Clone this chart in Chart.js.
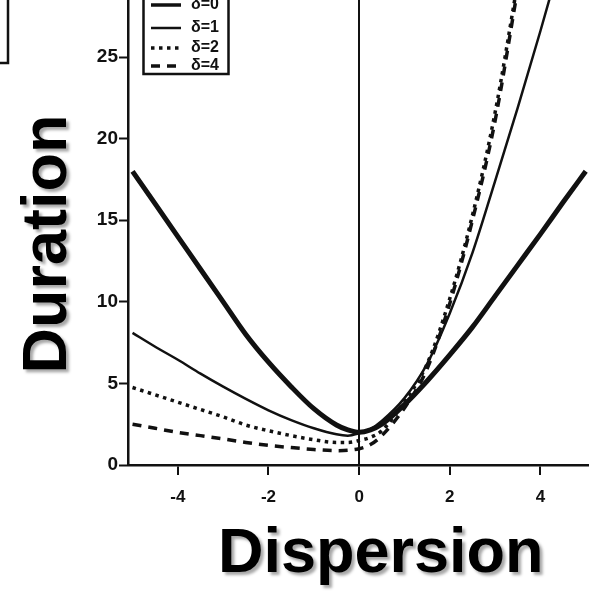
<!DOCTYPE html>
<html>
<head>
<meta charset="utf-8">
<script src="https://cdn.jsdelivr.net/npm/chart.js@4.4.1/dist/chart.umd.min.js"></script>
<style>
  html, body { margin: 0; padding: 0; background: #fff; }
  #wrap { position: relative; width: 591px; height: 591px; }
</style>
</head>
<body>
<div id="wrap"><canvas id="c" width="591" height="591"></canvas></div>
<script>
// ---- data ----
const X_VALUES = [-5, -4.5, -4, -3.5, -3, -2.5, -2, -1.5, -1, -0.5, -0.25, 0, 0.25, 0.5, 1, 1.5, 2, 2.5, 3, 3.5, 4, 4.5, 5];
const DELTA0 = [18.0, 16.0, 14.0, 12.0, 10.0, 8.0, 6.3, 4.8, 3.45, 2.45, 2.15, 2.0, 2.15, 2.5, 3.7, 5.15, 6.75, 8.45, 10.35, 12.25, 14.15, 16.1, 18.0];
const DELTA1 = [8.1, 7.25, 6.45, 5.6, 4.8, 4.05, 3.35, 2.75, 2.25, 1.88, 1.8, 1.95, 2.2, 2.7, 4.1, 6.2, 9.3, 13.0, 17.4, 21.9, 26.6, 31.5, null];
const DELTA2 = [4.75, 4.3, 3.85, 3.4, 2.95, 2.45, 2.1, 1.8, 1.55, 1.38, 1.38, 1.5, 1.7, 2.1, 3.9, 6.2, 10.2, 15.3, 21.6, 29.6, null, null, null];
const DELTA4 = [2.5, 2.25, 2.0, 1.8, 1.6, 1.38, 1.2, 1.07, 0.95, 0.88, 0.9, 1.0, 1.25, 1.8, 3.5, 5.9, 9.9, 15.0, 21.1, 29.2, null, null, null];
const SERIES_LABELS = ['δ=0', 'δ=1', 'δ=2', 'δ=4'];
const X_TICKS = [-4, -2, 0, 2, 4];
const Y_TICKS = [0, 5, 10, 15, 20, 25];
const X_TITLE = 'Dispersion';
const Y_TITLE = 'Duration';

const pts = (ys) => X_VALUES.map((x, i) => ({ x: x, y: ys[i] }));

const styles = [
  { borderWidth: 5, borderDash: [] },
  { borderWidth: 2.5, borderDash: [] },
  { borderWidth: 3.5, borderDash: [3.5, 4.5] },
  { borderWidth: 3.5, borderDash: [9, 7] }
];
const seriesData = [DELTA0, DELTA1, DELTA2, DELTA4];

const datasets = seriesData.map((ys, i) => ({
  label: SERIES_LABELS[i],
  data: pts(ys),
  borderColor: '#111',
  backgroundColor: '#111',
  borderWidth: styles[i].borderWidth,
  borderDash: styles[i].borderDash,
  borderCapStyle: 'butt',
  pointRadius: 0,
  cubicInterpolationMode: 'monotone',
  spanGaps: false,
  fill: false,
  clip: { left: 6, top: 0, right: 6, bottom: 6 }
}));

const overlay = {
  id: 'overlay',
  afterDraw(chart) {
    const ctx = chart.ctx;
    ctx.save();
    // partial frame at top-left corner (from neighbouring panel)
    ctx.strokeStyle = '#111';
    ctx.lineWidth = 2.5;
    ctx.beginPath();
    ctx.moveTo(8, 0); ctx.lineTo(8, 63); ctx.lineTo(0, 63);
    ctx.stroke();

    // legend box
    ctx.lineWidth = 2.5;
    ctx.strokeRect(143.5, -10, 85, 84);
    const rows = [5, 28, 48, 66];
    ctx.font = 'bold 16px "Liberation Sans", Arial, sans-serif';
    ctx.textBaseline = 'middle';
    ctx.textAlign = 'left';
    chart.data.datasets.forEach((ds, i) => {
      const y = rows[i];
      ctx.save();
      ctx.lineWidth = Math.min(ds.borderWidth, 3.5);
      ctx.setLineDash(ds.borderDash || []);
      ctx.strokeStyle = '#111';
      ctx.beginPath();
      ctx.moveTo(151, y); ctx.lineTo(181, y);
      ctx.stroke();
      ctx.restore();
      ctx.fillStyle = '#111';
      ctx.fillText(ds.label, 191, y);
    });

    // big axis titles
    ctx.fillStyle = '#000';
    ctx.shadowColor = 'rgba(0,0,0,0.35)';
    ctx.shadowOffsetX = 3;
    ctx.shadowOffsetY = 3;
    ctx.shadowBlur = 3;
    ctx.font = 'bold 63px "Liberation Sans", Arial, sans-serif';
    ctx.textBaseline = 'alphabetic';
    ctx.textAlign = 'left';
    ctx.fillText(X_TITLE, 218, 572);
    ctx.translate(66, 244);
    ctx.rotate(-Math.PI / 2);
    ctx.textAlign = 'center';
    ctx.fillText(Y_TITLE, 0, 0);
    ctx.restore();
  }
};

const xFont = { family: '"Liberation Sans", Arial, sans-serif', size: 17, weight: 'bold' };
const yFont = { family: '"Liberation Sans", Arial, sans-serif', size: 19, weight: 'bold' };

new Chart(document.getElementById('c'), {
  type: 'line',
  data: { datasets: datasets },
  options: {
    responsive: false,
    animation: false,
    devicePixelRatio: 1,
    layout: { padding: { left: 0, right: 3, top: 0, bottom: 0 } },
    plugins: { legend: { display: false }, tooltip: { enabled: false } },
    scales: {
      x: {
        type: 'linear',
        position: 'bottom',
        min: -5.1,
        max: 5.05,
        afterFit: (s) => { s.height = 126; s.paddingLeft = 0; s.paddingRight = 0; },
        afterBuildTicks: (s) => { s.ticks = X_TICKS.map(v => ({ value: v })); },
        ticks: { font: xFont, color: '#111', padding: 12, maxRotation: 0 },
        grid: {
          drawOnChartArea: true,
          color: (c) => (c.tick && c.tick.value === 0) ? '#111' : 'rgba(0,0,0,0)',
          lineWidth: 2,
          tickColor: '#111',
          tickLength: 10,
          tickWidth: 2
        },
        border: { display: true, color: '#111', width: 2.5 }
      },
      y: {
        type: 'linear',
        min: 0,
        max: 28.5,
        afterFit: (s) => { s.width = 128; s.paddingTop = 0; s.paddingBottom = 0; },
        afterBuildTicks: (s) => { s.ticks = Y_TICKS.map(v => ({ value: v })); },
        ticks: { font: yFont, color: '#111', padding: 1 },
        grid: {
          drawOnChartArea: false,
          tickColor: '#111',
          tickLength: 9,
          tickWidth: 2
        },
        border: { display: true, color: '#111', width: 2.5 }
      }
    }
  },
  plugins: [overlay]
});
</script>
</body>
</html>
